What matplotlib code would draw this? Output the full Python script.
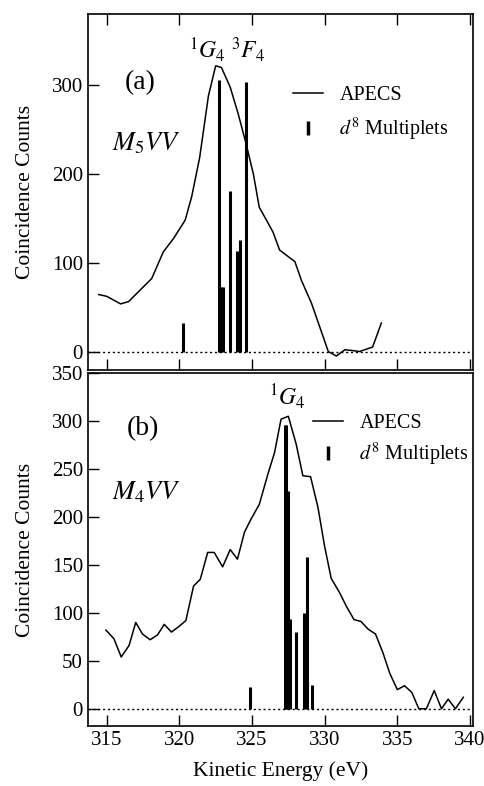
'''APECS coincidence spectra with d8 multiplet sticks'''

import matplotlib
matplotlib.use('Agg')
import matplotlib.pyplot as plt
from matplotlib.lines import Line2D

plt.rcParams['font.family'] = ['Liberation Serif', 'DejaVu Serif']
plt.rcParams['mathtext.fontset'] = 'stix'

# (a) M5VV
e_a = [314.45, 315.0, 315.96, 316.5, 317.3, 318.1, 318.9, 319.6, 320.4, 320.85,
       321.4, 322.0, 322.5, 322.9, 323.5, 324.05, 324.6, 325.1, 325.5, 326.0,
       326.45, 326.9, 327.95, 328.4, 329.1, 330.25, 330.8, 331.4, 331.95, 332.4,
       333.3, 333.9]
c_a = [65, 63, 54.5, 57, 70, 83, 113, 128, 148.5, 175,
       219, 288, 322, 320, 298, 268, 234, 200, 163, 148.5,
       135, 115, 102, 81, 55, 1, -4, 3, 2, 1,
       6, 33]
stick_e_a = [320.27, 322.72, 322.8, 322.9, 323.0, 323.48, 324.0, 324.2, 324.6]
stick_h_a = [33, 306, 74, 74, 74, 181, 114, 126, 304]

# (b) M4VV
e_b = [314.95, 315.5, 316.0, 316.54, 317.0, 317.46, 317.99, 318.5, 318.96, 319.46,
       319.99, 320.45, 320.98, 321.44, 321.95, 322.4, 322.98, 323.5, 324.0, 324.48,
       324.94, 325.5, 326.1, 326.55, 327.0, 327.5, 328.04, 328.5, 329.03, 329.54,
       329.99, 330.45, 331.03, 331.49, 332.02, 332.5, 332.99, 333.5, 334.02, 334.48,
       335.0, 335.5, 336.0, 336.48, 337.0, 337.54, 338.04, 338.5, 339.0, 339.54]
c_b = [82, 73, 54, 66, 90, 78, 72, 77, 88, 80,
       86, 92, 128, 135, 163, 163, 148, 166, 156, 184,
       198, 213, 245, 267, 302, 305, 276, 243, 242, 210,
       170, 136, 121, 107, 93, 91, 83, 78, 58, 37,
       20, 24, 17, 0, 0, 19, 0, 10, 0, 12]
stick_e_b = [324.87, 327.24, 327.32, 327.47, 327.6, 328.0, 328.57, 328.78, 329.14]
stick_h_b = [23, 296, 296, 227, 94, 80, 100, 158, 25]

xticks = [315, 320, 325, 330, 335, 340]

fs = 15
fs_lab = 15.5
fs_leg = 14.5
lw_stick = 2.2

fig = plt.figure(figsize=(4.85, 7.86), dpi=100)
ax1 = fig.add_axes([0.181, 0.529, 0.794, 0.453])
ax2 = fig.add_axes([0.181, 0.0763, 0.794, 0.449])


def draw_panel(ax, e, c, se, sh):
    ax.axhline(0, color='k', linestyle=(0, (1.5, 2)), linewidth=1)
    ax.plot(e, c, color='k', linewidth=1.1)
    ax.vlines(se, 0, sh, color='k', linewidth=lw_stick)
    ax.set_xlim(313.7, 340.2)
    ax.set_xticks(xticks)
    ax.tick_params(which='both', direction='in', length=8, width=1, labelsize=fs)
    for s in ax.spines.values():
        s.set_linewidth(1.2)
    ax.set_ylabel('Coincidence Counts', fontsize=fs_lab, labelpad=12)
    handles = [Line2D([], [], color='k', linewidth=1.1),
               Line2D([], [], color='k', linestyle='none', marker='|',
                      markersize=10, markeredgewidth=2.5)]
    return handles


h = draw_panel(ax1, e_a, c_a, stick_e_a, stick_h_a)
ax1.set_ylim(-20, 380)
ax1.set_yticks([0, 100, 200, 300])
ax1.tick_params(axis='x', top=True, labelbottom=False)
ax1.legend(h, ['APECS', '$d^8$ Multiplets'], loc='upper left',
           bbox_to_anchor=(0.486, 0.848), frameon=False, fontsize=fs_leg,
           handlelength=1.5, labelspacing=0.5)
ax1.text(317.3, 303, '(a)', fontsize=20, ha='center', va='center')
ax1.text(315.4, 235, '$M_5VV$', fontsize=19, ha='left', va='center')
ax1.text(323.3, 340, '$^1G_4\\ ^3F_4$', fontsize=17, ha='center', va='center')

h = draw_panel(ax2, e_b, c_b, stick_e_b, stick_h_b)
ax2.set_ylim(-18, 350)
ax2.set_yticks([0, 50, 100, 150, 200, 250, 300, 350])
ax2.legend(h, ['APECS', '$d^8$ Multiplets'], loc='upper left',
           bbox_to_anchor=(0.538, 0.935), frameon=False, fontsize=fs_leg,
           handlelength=1.5, labelspacing=0.4)
ax2.text(317.5, 292, '(b)', fontsize=20, ha='center', va='center')
ax2.text(315.4, 226, '$M_4VV$', fontsize=19, ha='left', va='center')
ax2.text(327.4, 326, '$^1G_4$', fontsize=17, ha='center', va='center')
ax2.set_xlabel('Kinetic Energy (eV)', fontsize=fs_lab, labelpad=8)

fig.savefig('out.png', dpi=100)
